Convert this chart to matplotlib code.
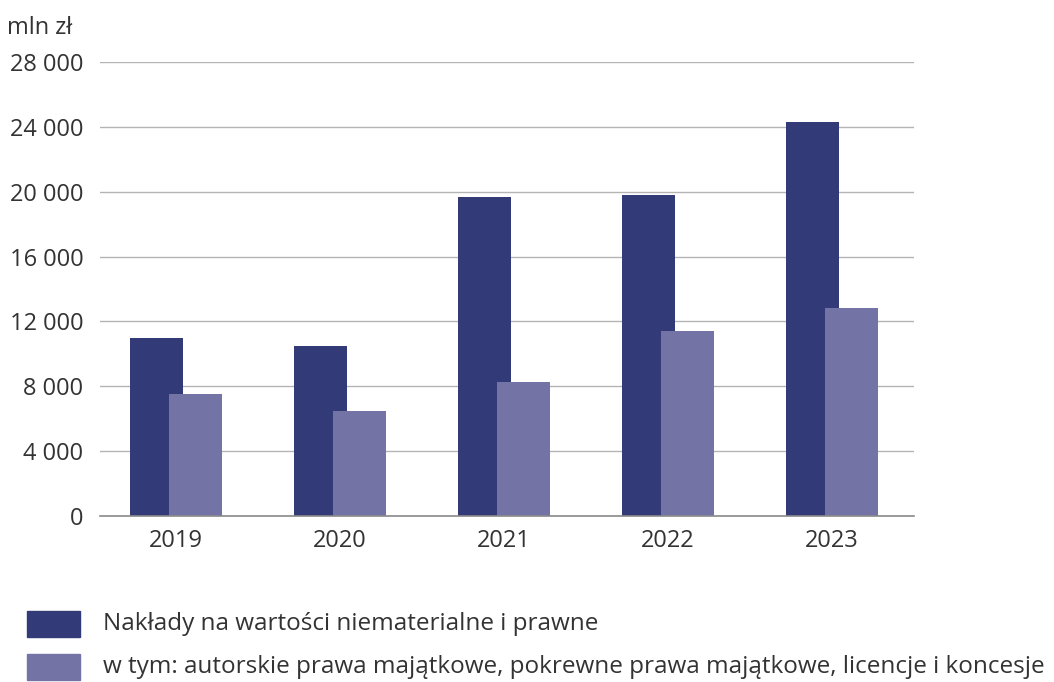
import matplotlib
matplotlib.use("Agg")
import numpy as np
from matplotlib import pyplot as plt
from matplotlib.patches import Rectangle

plt.rcParams['font.family'] = ['Open Sans', 'DejaVu Sans']

years = ['2019', '2020', '2021', '2022', '2023']
naklady = [11000, 10500, 19700, 19800, 24300]
licencje = [7500, 6500, 8250, 11400, 12830]
yticks = [0, 4000, 8000, 12000, 16000, 20000, 24000, 28000]

label1 = 'Nakłady na wartości niematerialne i prawne'
label2 = 'w tym: autorskie prawa majątkowe, pokrewne prawa majątkowe, licencje i koncesje'

dark = '#333a78'
light = '#7373a5'
txt = '#333333'
fs = 17

fig = plt.figure(figsize=(10.54, 6.82), dpi=100)
ax = fig.add_axes([0.0949, 0.2434, 0.7723, 0.6657])

x = np.arange(len(years))
w = 0.32
ax.bar(x - 0.12, naklady, width=w, color=dark, zorder=2)
ax.bar(x + 0.12, licencje, width=w, color=light, zorder=3)

ax.set_ylim(0, 28000)
ax.set_xlim(-0.463, 4.5)
ax.set_yticks(yticks)
ax.set_yticklabels([f'{v:,}'.replace(',', ' ') for v in yticks])
ax.set_xticks(x)
ax.set_xticklabels(years)
ax.tick_params(axis='both', length=0, labelsize=fs, colors=txt)
ax.tick_params(axis='y', pad=12)
ax.tick_params(axis='x', pad=9)
ax.grid(axis='y', color='#b4b4b4', linewidth=1, zorder=0)
for s in ['top', 'right', 'left']:
    ax.spines[s].set_visible(False)
ax.spines['bottom'].set_color('#8a8a8a')
ax.spines['bottom'].set_linewidth(1.2)
ax.spines['bottom'].set_zorder(4)

fig.text(7 / 1054, 1 - 28 / 682, 'mln zł', fontsize=fs, color=txt, va='center', ha='left')

# legend drawn manually
for i, (c, lab) in enumerate([(dark, label1), (light, label2)]):
    yc = 624 + i * 43
    fig.patches.append(Rectangle((27 / 1054, 1 - (yc + 13) / 682), 53 / 1054, 26 / 682,
                                 transform=fig.transFigure, color=c))
    fig.text(103 / 1054, 1 - yc / 682, lab, fontsize=17.5, color=txt, va='center', ha='left')

fig.savefig('out.png', dpi=100, facecolor='white')
